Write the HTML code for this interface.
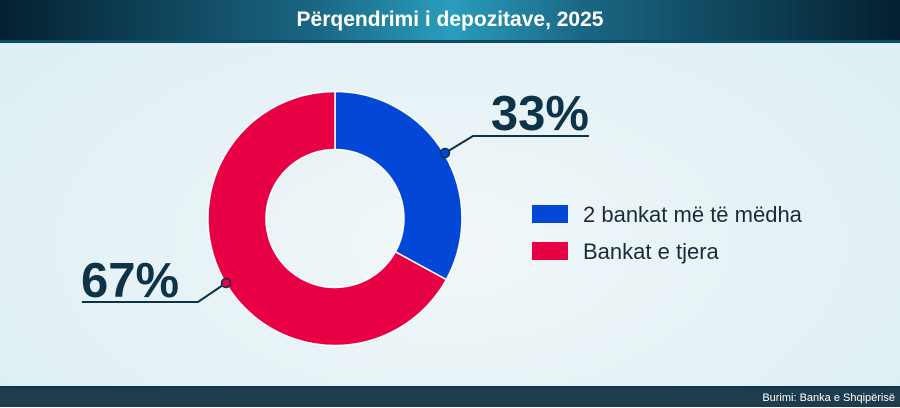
<!DOCTYPE html>
<html><head><meta charset="utf-8"><style>
body{margin:0;width:900px;height:407px;overflow:hidden;font-family:"Liberation Sans",sans-serif}
.bg{position:absolute;left:0;top:0;width:900px;height:407px;background:radial-gradient(ellipse at 50% 60%,#f1f7f9 0%,#e6f2f6 50%,#dbeef4 100%)}
.hdr{position:absolute;left:0;top:0;width:900px;height:40px;background:linear-gradient(90deg,#04202f 0%,#1a6683 35%,#2a9dbd 50%,#1a6683 65%,#04202f 100%);border-bottom:3px solid #0c4a6a;color:#fff;font-weight:bold;font-size:21px;text-align:center;line-height:40px}
.ftr{position:absolute;left:0;top:386px;width:900px;height:21px;background:#1d3c4e;border-top:2px solid #0f3550;color:#fff;font-size:11px;text-align:right;line-height:20px;box-sizing:border-box;padding-right:5px}
</style></head><body>
<div class="bg"></div>
<div class="hdr">Përqendrimi i depozitave, 2025</div>
<svg style="position:absolute;left:0;top:0" width="900" height="407">
<path d="M335,91.5 A127,127 0 0,1 446.3,279.6 L395.4,251.8 A69,69 0 0,0 335,149.5 Z" fill="#0347d6" stroke="#fff" stroke-width="1.5"/>
<path d="M446.3,279.6 A127,127 0 1,1 335,91.5 L335,149.5 A69,69 0 1,0 395.4,251.8 Z" fill="#e80044" stroke="#fff" stroke-width="1.5"/>
<polyline points="445,153 473,136 589,136" fill="none" stroke="#0d3349" stroke-width="2"/>
<circle cx="445" cy="153" r="4.5" fill="#0347d6" stroke="#0d3349" stroke-width="1.5"/>
<polyline points="226,283 198,302 82,302" fill="none" stroke="#0d3349" stroke-width="2"/>
<circle cx="226" cy="283" r="4.5" fill="#e80044" stroke="#0d3349" stroke-width="1.5"/>
<text x="589" y="130" text-anchor="end" font-family="Liberation Sans,sans-serif" font-weight="bold" font-size="49" fill="#0d3349">33%</text>
<text x="81" y="297" font-family="Liberation Sans,sans-serif" font-weight="bold" font-size="49" fill="#0d3349">67%</text>
<rect x="532" y="205" width="36" height="18" fill="#0347d6"/>
<rect x="532" y="242" width="36" height="18" fill="#e80044"/>
<text x="583" y="222" font-family="Liberation Sans,sans-serif" font-size="22" fill="#1a2a3a">2 bankat më të mëdha</text>
<text x="583" y="259" font-family="Liberation Sans,sans-serif" font-size="22" fill="#1a2a3a">Bankat e tjera</text>
</svg>
<div class="ftr">Burimi: Banka e Shqipërisë</div>
</body></html>
